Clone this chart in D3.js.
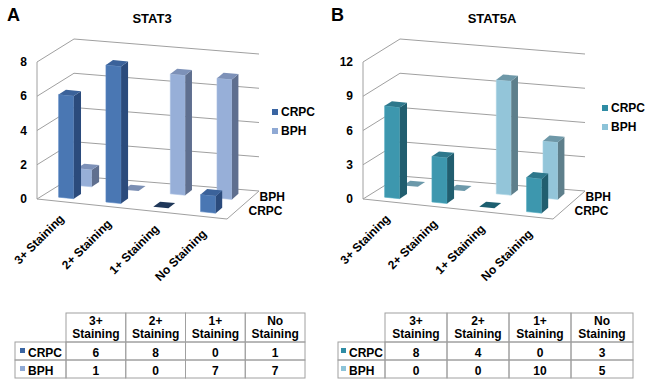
<!DOCTYPE html>
<html>
<head>
<meta charset="utf-8">
<script src="https://cdn.jsdelivr.net/npm/d3@7"></script>
<style>
  body { margin: 0; background: #fff; }
  svg { display: block; font-family: "Liberation Sans", Arial, sans-serif; font-weight: bold; }
</style>
</head>
<body>
<div id="chart"></div>
<script>
const categories = ["3+ Staining", "2+ Staining", "1+ Staining", "No Staining"];
const seriesNames = ["CRPC", "BPH"];

const stat3CRPC = [6, 8, 0, 1];
const stat3BPH = [1, 0, 7, 7];
const stat3Ticks = [0, 2, 4, 6, 8];

const stat5aCRPC = [8, 4, 0, 3];
const stat5aBPH = [0, 0, 10, 5];
const stat5aTicks = [0, 3, 6, 9, 12];

const W = 650, H = 385;
const svg = d3.select("#chart").append("svg")
  .attr("width", W).attr("height", H)
  .attr("viewBox", [0, 0, W, H]);

// projection of the 3d box: u along categories, w in depth, v value
const geo = { ufx: 190, ufy: 20, ubx: 185, uby: 15, wx: 37, wy: -23, hgt: 137 };

function drawPanel(cfg) {
  const g = svg.append("g");
  const ox = cfg.ox, oy = cfg.oy;

  const yv = d3.scaleLinear().domain([0, d3.max(cfg.ticks)]).range([0, geo.hgt]);
  const xu = d3.scaleBand().domain(categories).range([0, 1]).paddingInner(0.68).paddingOuter(0.34);
  const zw = d3.scaleBand().domain(seriesNames).range([0, 1]).paddingInner(0.6).paddingOuter(0.3);

  const P = (a, b, v) => [
    ox + a * (geo.ufx + b * (geo.ubx - geo.ufx)) + b * geo.wx,
    oy + a * (geo.ufy + b * (geo.uby - geo.ufy)) + b * geo.wy - yv(v)
  ];
  const line = d3.line();

  // panel letter + title
  g.append("text").attr("x", cfg.letterX).attr("y", 21)
    .style("font-size", "18px").text(cfg.letter);
  g.append("text").attr("x", cfg.titleX).attr("y", 23)
    .attr("text-anchor", "middle").style("font-size", "13px").text(cfg.title);

  // walls
  const grid = g.append("g").attr("fill", "none").attr("stroke", "#a0a0a0").attr("stroke-width", 1);
  cfg.ticks.forEach((t) => {
    grid.append("path").attr("d", line([P(0, 0, t), P(0, 1, t), P(1, 1, t)]));
  });
  grid.append("path").attr("d", line([P(0, 0, 0), P(0, 0, d3.max(cfg.ticks))]));
  grid.append("path").attr("d", line([P(0, 0, 0), P(1, 0, 0), P(1, 1, 0)]));

  // tick labels
  g.append("g").attr("text-anchor", "end").style("font-size", "12px")
    .selectAll("text").data(cfg.ticks).join("text")
    .attr("x", (d) => P(0, 0, d)[0] - 10)
    .attr("y", (d) => P(0, 0, d)[1])
    .attr("dy", "0.35em")
    .text((d) => d);

  // bars, back row first
  const bars = g.append("g");
  cfg.series.slice().reverse().forEach((s) => {
    const w0 = zw(s.name), w1 = w0 + zw.bandwidth();
    s.values.forEach((v, i) => {
      const u0 = xu(categories[i]), u1 = u0 + xu.bandwidth();
      const bg = bars.append("g");
      if (v === 0) {
        bg.append("path")
          .attr("d", line([P(u0, w0, 0), P(u1, w0, 0), P(u1, w1, 0), P(u0, w1, 0)]) + "Z")
          .attr("fill", s.flat);
        return;
      }
      bg.append("path")
        .attr("d", line([P(u0, w0, 0), P(u1, w0, 0), P(u1, w0, v), P(u0, w0, v)]) + "Z")
        .attr("fill", s.front).attr("stroke", s.edge).attr("stroke-width", 0.6);
      bg.append("path")
        .attr("d", line([P(u1, w0, 0), P(u1, w1, 0), P(u1, w1, v), P(u1, w0, v)]) + "Z")
        .attr("fill", s.side);
      bg.append("path")
        .attr("d", line([P(u0, w0, v), P(u1, w0, v), P(u1, w1, v), P(u0, w1, v)]) + "Z")
        .attr("fill", s.top);
    });
  });

  // category labels
  g.append("g").attr("text-anchor", "end").style("font-size", "12px")
    .selectAll("text").data(categories).join("text")
    .attr("transform", (d) => {
      const p = P(xu(d) + xu.bandwidth() / 2, 0, 0);
      return `translate(${p[0] + 4},${p[1] + 18}) rotate(-45)`;
    })
    .text((d) => d);

  // depth labels
  g.append("g").style("font-size", "12px")
    .selectAll("text").data(seriesNames).join("text")
    .attr("x", (d) => {
      const wc = zw(d) + zw.bandwidth() / 2;
      return P(1, wc, 0)[0] + 6 + (1 - wc) * 10;
    })
    .attr("y", (d) => P(1, zw(d) + zw.bandwidth() / 2, 0)[1] + 3)
    .text((d) => d);

  // legend
  const lg = g.append("g").style("font-size", "12px");
  cfg.series.forEach((s, i) => {
    const yy = cfg.legY + i * 19;
    lg.append("rect").attr("x", cfg.legX).attr("y", yy - 7).attr("width", 6).attr("height", 6).attr("fill", s.key);
    lg.append("text").attr("x", cfg.legX + 9).attr("y", yy).text(s.name);
  });

  // table
  const tb = g.append("g").style("font-size", "12px");
  const cx = d3.scaleBand().domain(categories).range([cfg.tabX0, cfg.tabX1]);
  const rowY = [313, 342, 360, 378];
  const bc = "#a0a0a0";
  categories.forEach((c, i) => {
    const x0 = cx(c);
    tb.append("rect").attr("x", x0).attr("y", rowY[0]).attr("width", cx.bandwidth()).attr("height", rowY[1] - rowY[0])
      .attr("fill", "none").attr("stroke", bc);
    const parts = [c.slice(0, c.indexOf(" ")), c.slice(c.indexOf(" ") + 1)];
    parts.forEach((t, k) => {
      tb.append("text").attr("x", x0 + cx.bandwidth() / 2).attr("y", 325 + k * 13)
        .attr("text-anchor", "middle").text(t);
    });
  });
  cfg.series.forEach((s, r) => {
    const y0 = rowY[r + 1], y1 = rowY[r + 2];
    tb.append("rect").attr("x", cfg.tabL).attr("y", y0).attr("width", cfg.tabX0 - cfg.tabL).attr("height", y1 - y0)
      .attr("fill", "none").attr("stroke", bc);
    tb.append("rect").attr("x", cfg.tabL + cfg.keyDx).attr("y", y0 + 6).attr("width", 5).attr("height", 5).attr("fill", s.key);
    tb.append("text").attr("x", cfg.tabL + cfg.keyDx + 8).attr("y", y1 - 3).text(s.name);
    s.values.forEach((v, i) => {
      const x0 = cx(categories[i]);
      tb.append("rect").attr("x", x0).attr("y", y0).attr("width", cx.bandwidth()).attr("height", y1 - y0)
        .attr("fill", "none").attr("stroke", bc);
      tb.append("text").attr("x", x0 + cx.bandwidth() / 2).attr("y", y1 - 3)
        .attr("text-anchor", "middle").text(v);
    });
  });
}

drawPanel({
  letter: "A", letterX: 7, title: "STAT3", titleX: 152,
  ox: 37, oy: 199, ticks: stat3Ticks,
  legX: 272, legY: 116,
  tabL: 15, tabX0: 66, tabX1: 305, keyDx: 5,
  series: [
    { name: "CRPC", values: stat3CRPC, front: "#4a77b3", edge: "#5a88c4", side: "#2b4b7c", top: "#3b629a", flat: "#1f3759", key: "#3a65a2" },
    { name: "BPH", values: stat3BPH, front: "#97afd8", edge: "#a9bfe2", side: "#5f6f8f", top: "#7d91b8", flat: "#7b8fb4", key: "#8fa9d4" }
  ]
});

drawPanel({
  letter: "B", letterX: 331, title: "STAT5A", titleX: 492,
  ox: 363, oy: 199, ticks: stat5aTicks,
  legX: 602, legY: 112,
  tabL: 338, tabX0: 385, tabX1: 633, keyDx: 3,
  series: [
    { name: "CRPC", values: stat5aCRPC, front: "#3d97ae", edge: "#4fa9bf", side: "#215e6f", top: "#2e788c", flat: "#1d5f70", key: "#2f8ca4" },
    { name: "BPH", values: stat5aBPH, front: "#93c5d9", edge: "#a7d3e4", side: "#5e7f8b", top: "#6e98a8", flat: "#6c99aa", key: "#8cc3d8" }
  ]
});
</script>
</body>
</html>
